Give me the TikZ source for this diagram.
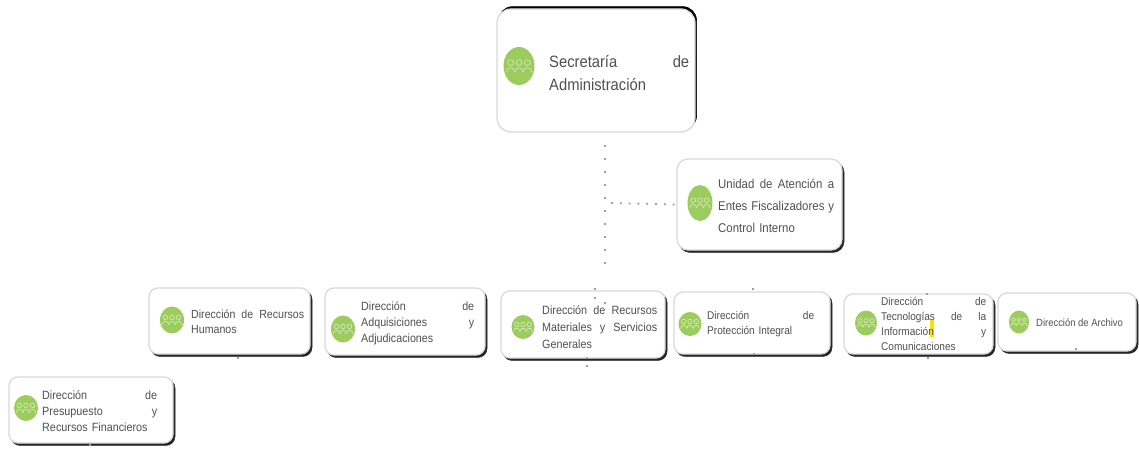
\documentclass[tikz,border=0pt]{standalone}
\usepackage{fontspec}
\setmainfont{Liberation Sans}
\newfontfamily\narrowsans[FakeStretch=0.9]{Liberation Sans}
\usetikzlibrary{shapes.geometric,shadows}
\definecolor{boxedge}{HTML}{DADADA}
\definecolor{darkedge}{HTML}{262626}
\definecolor{inktext}{HTML}{505050}
\definecolor{leaf}{HTML}{9CCB5E}
\definecolor{leafpale}{HTML}{D3E9B6}
\definecolor{linkgray}{HTML}{A0A0A0}
\tikzset{
  orgbox/.style={draw=boxedge,line width=1.3pt,fill=white,inner sep=0pt},
  lowshadow/.style={copy shadow={shadow xshift=2pt,shadow yshift=-2.4pt,fill=darkedge,draw=darkedge,line width=.6pt}},
  highshadow/.style={copy shadow={shadow xshift=1.6pt,shadow yshift=2.4pt,fill=black,draw=black,line width=.6pt}},
  iconblob/.style={ellipse,fill=leaf,draw=none,inner sep=0pt},
  person/.style={draw=leafpale,line width=.7pt},
  label/.style={anchor=west,inner sep=0pt,align=left,text=inktext},
  linkdots/.style={draw=linkgray,line width=1.8pt},
  speck/.style={fill=linkgray,draw=none},
}
% name, x1, y1, x2, y2, radius, shadow style
\newcommand{\orgrect}[7]{%
  \pgfmathsetmacro{\cxx}{(#2+#4)/2}\pgfmathsetmacro{\cyy}{(#3+#5)/2}%
  \pgfmathsetmacro{\wdd}{#4-#2}\pgfmathsetmacro{\htt}{#5-#3}%
  \node[orgbox,rounded corners=#6pt,#7,minimum width=\wdd pt,minimum height=\htt pt] (#1) at (\cxx,\cyy) {};%
}
% name, cx, cy, width, height
\newcommand{\orgicon}[5]{%
  \node[iconblob,minimum width=#4pt,minimum height=#5pt] (#1) at (#2,#3) {};%
  \pgfmathsetmacro{\uu}{#4/22}%
  \begin{scope}[shift={(#2,#3)},x=\uu pt,y=-\uu pt]
    \foreach \dx in {-6,0,6}{
      \draw[person] (\dx,-2.4) circle (2.1);
      \draw[person] (\dx-3,4.4) .. controls (\dx-3,0.2) and (\dx+3,0.2) .. (\dx+3,4.4);
    }
  \end{scope}%
}
\newcommand{\sizedfont}[2]{\narrowsans\fontsize{#1}{#2}\selectfont}
\begin{document}
\begin{tikzpicture}[x=1pt,y=-1pt]
\useasboundingbox (0,0) rectangle (1139,449);
\fill[white] (0,0) rectangle (1139,449);

% connectors
\coordinate (vtop) at (605,145);
\coordinate (vbot) at (605,275);
\coordinate (vjoin) at (611,203);

% boxes
\orgrect{sec}{497}{9}{695}{132}{14}{highshadow}
\orgrect{uni}{677}{159}{842}{250}{11}{lowshadow}
\orgrect{rh}{149}{288}{310}{354}{9}{lowshadow}
\orgrect{adq}{325}{288}{485}{355}{9}{lowshadow}
\orgrect{pre}{9}{377}{173}{443}{9}{lowshadow}
\orgrect{mat}{501}{291}{665}{358}{9}{lowshadow}
\orgrect{pro}{674}{292}{830}{354}{9}{lowshadow}
\orgrect{tec}{844}{294}{993}{354}{9}{lowshadow}
\orgrect{arc}{998}{293}{1136}{351}{9}{lowshadow}

\draw[linkdots,dash pattern=on 2pt off 11pt] (vtop) -- (vbot);
\draw[linkdots,dash pattern=on 2pt off 6.8pt] (vjoin) -- (uni.west);

% faint connector specks on the box edges
\foreach \sx/\sy in {605/303,595/289,595/298,587/358,587/366,753/289,754/354,927/294,928/358,1076/349,238/358,90/445}
  \fill[speck] (\sx-.8,\sy-1) rectangle (\sx+.8,\sy+1);

% icons
\orgicon{isec}{519}{66}{31}{38}
\orgicon{iuni}{700}{203}{25}{36}
\orgicon{irh}{172}{320}{24}{27}
\orgicon{iadq}{343}{329}{24}{27}
\orgicon{ipre}{26}{408}{24}{26}
\orgicon{imat}{523}{327}{23}{24}
\orgicon{ipro}{690}{324}{23}{24}
\orgicon{itec}{866}{323}{22}{25}
\orgicon{iarc}{1019}{322}{20}{23}

% highlight
\fill[yellow!85!orange] (930,320) rectangle (933.5,337);

% labels
\node[label,text width=140pt,font=\sizedfont{16.4}{22.5}] (tsec) at (549,73) {Secretaría\hfill de\\Administración};
\node[label,text width=116pt,font=\sizedfont{12.7}{22}] (tuni) at (718,206) {Unidad\hfill de\hfill Atención\hfill a\\Entes\hfill Fiscalizadores\hfill y\\Control Interno};
\node[label,text width=113pt,font=\sizedfont{11.8}{15.5}] (trh) at (191,321.5) {Dirección\hfill de\hfill Recursos\\Humanos};
\node[label,text width=113pt,font=\sizedfont{11.9}{16}] (tadq) at (361,323) {Dirección\hfill de\\Adquisiciones\hfill y\\Adjudicaciones};
\node[label,text width=115pt,font=\sizedfont{12}{16}] (tpre) at (42,411) {Dirección\hfill de\\Presupuesto\hfill y\\Recursos Financieros};
\node[label,text width=115pt,font=\sizedfont{12}{17}] (tmat) at (542,327) {Dirección\hfill de\hfill Recursos\\Materiales\hfill y\hfill Servicios\\Generales};
\node[label,text width=107pt,font=\sizedfont{11.2}{15}] (tpro) at (707,324.5) {Dirección\hfill de\\Protección Integral};
\node[label,text width=105pt,font=\sizedfont{11.2}{15}] (ttec) at (881,323.5) {Dirección\hfill de\\Tecnologías\hfill de\hfill la\\Información\hfill y\\Comunicaciones};
\node[label,font=\sizedfont{10.5}{13}] (tarc) at (1036,323) {Dirección de Archivo};
\end{tikzpicture}
\end{document}
